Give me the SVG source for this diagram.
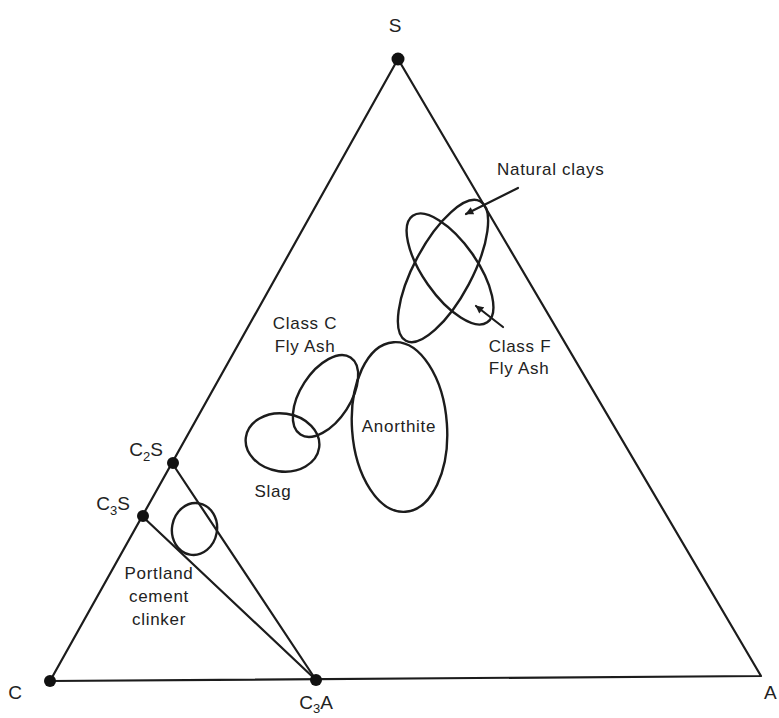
<svg xmlns="http://www.w3.org/2000/svg" width="779" height="718" viewBox="0 0 779 718">
<style>
.ln{fill:none;stroke:#1c1c1c;stroke-width:2.2;stroke-linecap:round;stroke-linejoin:round}
.el{fill:none;stroke:#1c1c1c;stroke-width:2.4}
.dot{fill:#111}
.t{font-family:"Liberation Sans",Arial,sans-serif;font-size:17px;fill:#222;letter-spacing:0.7px}
.v{font-family:"Liberation Sans",Arial,sans-serif;font-size:19px;fill:#222}
.m{text-anchor:middle}
</style>
<defs>
<marker id="ah" viewBox="0 0 10 10" refX="9" refY="5" markerWidth="10" markerHeight="8" markerUnits="userSpaceOnUse" orient="auto">
<path d="M0,0 L10,5 L0,10 Z" fill="#1c1c1c"/>
</marker>
</defs>
<rect width="779" height="718" fill="#fff"/>
<g id="connectors">
<path class="ln" d="M50,681 L398,59 L761,676 Z"/>
<line class="ln" x1="172" y1="463" x2="316" y2="680"/>
<line class="ln" x1="142" y1="516" x2="316" y2="680"/>
<line class="ln" x1="518" y1="188" x2="466" y2="214" marker-end="url(#ah)"/>
<line class="ln" x1="503" y1="327" x2="476" y2="306" marker-end="url(#ah)"/>
</g>
<g id="S"><circle class="dot" cx="398" cy="59" r="6.5"/><text class="v m" x="395" y="32">S</text></g>
<g id="C"><circle class="dot" cx="50" cy="681" r="6"/><text class="v m" x="15" y="699">C</text></g>
<g id="A"><text class="v" x="764" y="699">A</text></g>
<g id="C3A"><circle class="dot" cx="316" cy="680" r="6"/><text class="v m" x="316" y="709">C<tspan font-size="13" dy="4">3</tspan><tspan dy="-4">A</tspan></text></g>
<g id="C2S"><circle class="dot" cx="173" cy="463" r="6"/><text class="v" x="163" y="456" text-anchor="end">C<tspan font-size="13" dy="5">2</tspan><tspan dy="-5">S</tspan></text></g>
<g id="C3S"><circle class="dot" cx="143" cy="516" r="6"/><text class="v" x="130" y="510" text-anchor="end">C<tspan font-size="13" dy="5">3</tspan><tspan dy="-5">S</tspan></text></g>
<g id="portland"><ellipse class="el" cx="194.5" cy="529" rx="22.5" ry="26" transform="rotate(10 194.5 529)"/>
<text class="t m" x="159" y="579">Portland</text><text class="t m" x="159" y="602">cement</text><text class="t m" x="159" y="625">clinker</text></g>
<g id="slag"><ellipse class="el" cx="282.5" cy="442.5" rx="37" ry="29" transform="rotate(8 282.5 442.5)"/><text class="t m" x="273" y="497">Slag</text></g>
<g id="classC"><ellipse class="el" cx="325.5" cy="396" rx="46" ry="25" transform="rotate(-57 325.5 396)"/>
<text class="t m" x="305" y="329">Class C</text><text class="t m" x="305" y="352">Fly Ash</text></g>
<g id="anorthite"><ellipse class="el" cx="399.5" cy="427" rx="47.5" ry="85" transform="rotate(-4 399.5 427)"/><text class="t m" x="399" y="432">Anorthite</text></g>
<g id="naturalClays"><ellipse class="el" cx="443" cy="271" rx="79" ry="29" transform="rotate(-62 443 271)"/><text class="t" x="497" y="175">Natural clays</text></g>
<g id="classF"><ellipse class="el" cx="450" cy="269" rx="65" ry="27" transform="rotate(55 450 269)"/>
<text class="t m" x="520" y="352">Class F</text><text class="t m" x="519" y="374">Fly Ash</text></g>
</svg>
